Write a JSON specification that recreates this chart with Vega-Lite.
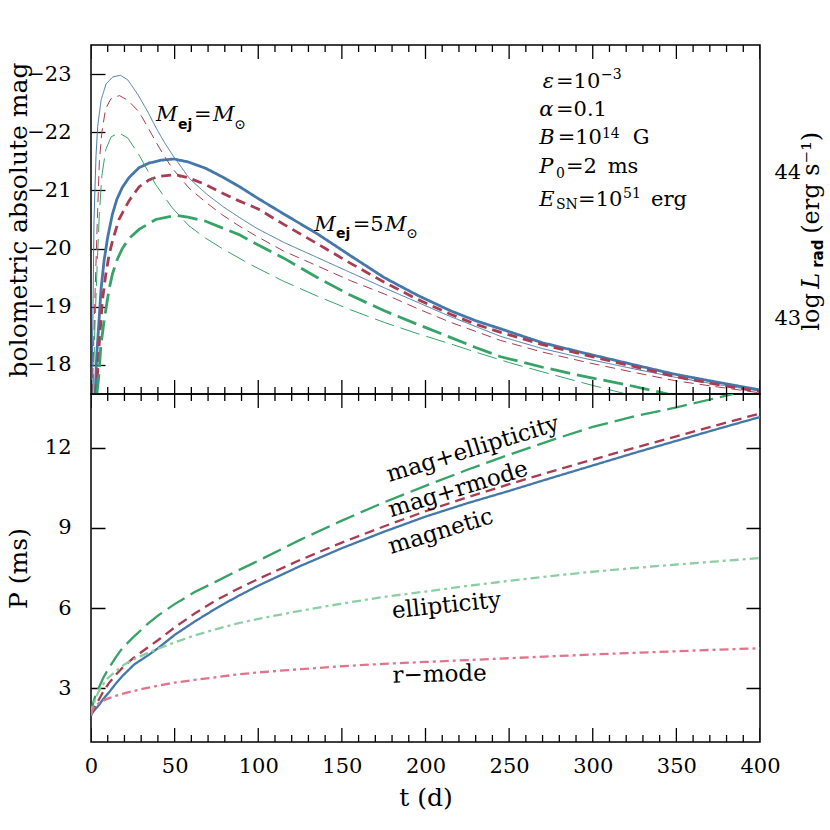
{
  "$schema": "https://vega.github.io/schema/vega-lite/v6.json",
  "background": "white",
  "padding": {"left": 5, "top": 44, "right": 0, "bottom": 0},
  "spacing": 0,
  "bounds": "flush",
  "config": {
    "view": {"stroke": "black", "strokeWidth": 1.5},
    "font": "DejaVu Serif",
    "axis": {
      "labelFont": "DejaVu Serif", "titleFont": "DejaVu Serif",
      "labelFontSize": 21, "titleFontSize": 25, "titleFontWeight": "normal",
      "labelColor": "black", "titleColor": "black", "ticks": false,
      "domain": false, "grid": true, "gridColor": "black", "gridWidth": 1.3, "gridOpacity": 1,
      "labelOverlap": false, "labelFlush": false, "labelBound": false
    },
    "text": {"font": "DejaVu Serif", "color": "black"}
  },
  "datasets": {
    "xmajor": [{"t":0},{"t":50},{"t":100},{"t":150},{"t":200},{"t":250},{"t":300},{"t":350},{"t":400}],
    "xminor": [{"t":10},{"t":20},{"t":30},{"t":40},{"t":60},{"t":70},{"t":80},{"t":90},{"t":110},{"t":120},{"t":130},{"t":140},{"t":160},{"t":170},{"t":180},{"t":190},{"t":210},{"t":220},{"t":230},{"t":240},{"t":260},{"t":270},{"t":280},{"t":290},{"t":310},{"t":320},{"t":330},{"t":340},{"t":360},{"t":370},{"t":380},{"t":390}],
    "top": [
      {"model":"magnetic","mej":1,"t":0.6,"mag":-17.5},{"model":"magnetic","mej":1,"t":1.8,"mag":-20.5},{"model":"magnetic","mej":1,"t":3,"mag":-21.6},{"model":"magnetic","mej":1,"t":4,"mag":-22.1},{"model":"magnetic","mej":1,"t":6,"mag":-22.55},{"model":"magnetic","mej":1,"t":9,"mag":-22.83},{"model":"magnetic","mej":1,"t":13,"mag":-22.95},{"model":"magnetic","mej":1,"t":17.5,"mag":-22.98},{"model":"magnetic","mej":1,"t":22,"mag":-22.9},{"model":"magnetic","mej":1,"t":28,"mag":-22.65},{"model":"magnetic","mej":1,"t":34,"mag":-22.35},{"model":"magnetic","mej":1,"t":39,"mag":-22.07},{"model":"magnetic","mej":1,"t":44,"mag":-21.82},{"model":"magnetic","mej":1,"t":49,"mag":-21.6},{"model":"magnetic","mej":1,"t":54,"mag":-21.4},{"model":"magnetic","mej":1,"t":59,"mag":-21.2},{"model":"magnetic","mej":1,"t":69,"mag":-20.94},{"model":"magnetic","mej":1,"t":79,"mag":-20.72},{"model":"magnetic","mej":1,"t":89,"mag":-20.53},{"model":"magnetic","mej":1,"t":99,"mag":-20.35},{"model":"magnetic","mej":1,"t":115,"mag":-20.11},{"model":"magnetic","mej":1,"t":135,"mag":-19.85},{"model":"magnetic","mej":1,"t":155,"mag":-19.59},{"model":"magnetic","mej":1,"t":175,"mag":-19.33},{"model":"magnetic","mej":1,"t":195,"mag":-19.08},{"model":"magnetic","mej":1,"t":215,"mag":-18.83},{"model":"magnetic","mej":1,"t":245,"mag":-18.49},{"model":"magnetic","mej":1,"t":270,"mag":-18.28},{"model":"magnetic","mej":1,"t":297,"mag":-18.1},{"model":"magnetic","mej":1,"t":325,"mag":-17.93},{"model":"magnetic","mej":1,"t":349,"mag":-17.79},{"model":"magnetic","mej":1,"t":375,"mag":-17.66},{"model":"magnetic","mej":1,"t":400,"mag":-17.55},
      {"model":"magnetic","mej":5,"t":2.5,"mag":-17.5},{"model":"magnetic","mej":5,"t":3.5,"mag":-18.2},{"model":"magnetic","mej":5,"t":4.8,"mag":-18.76},{"model":"magnetic","mej":5,"t":6,"mag":-19.3},{"model":"magnetic","mej":5,"t":7.8,"mag":-19.79},{"model":"magnetic","mej":5,"t":10,"mag":-20.2},{"model":"magnetic","mej":5,"t":12.8,"mag":-20.59},{"model":"magnetic","mej":5,"t":15.5,"mag":-20.85},{"model":"magnetic","mej":5,"t":18.7,"mag":-21.05},{"model":"magnetic","mej":5,"t":22.7,"mag":-21.22},{"model":"magnetic","mej":5,"t":28.7,"mag":-21.39},{"model":"magnetic","mej":5,"t":34.7,"mag":-21.47},{"model":"magnetic","mej":5,"t":42,"mag":-21.52},{"model":"magnetic","mej":5,"t":49.6,"mag":-21.54},{"model":"magnetic","mej":5,"t":58,"mag":-21.49},{"model":"magnetic","mej":5,"t":68.6,"mag":-21.38},{"model":"magnetic","mej":5,"t":78,"mag":-21.24},{"model":"magnetic","mej":5,"t":88.5,"mag":-21.07},{"model":"magnetic","mej":5,"t":100,"mag":-20.86},{"model":"magnetic","mej":5,"t":115,"mag":-20.6},{"model":"magnetic","mej":5,"t":135.5,"mag":-20.25},{"model":"magnetic","mej":5,"t":155,"mag":-19.88},{"model":"magnetic","mej":5,"t":175.4,"mag":-19.5},{"model":"magnetic","mej":5,"t":195,"mag":-19.2},{"model":"magnetic","mej":5,"t":215,"mag":-18.93},{"model":"magnetic","mej":5,"t":230,"mag":-18.76},{"model":"magnetic","mej":5,"t":245,"mag":-18.62},{"model":"magnetic","mej":5,"t":270,"mag":-18.38},{"model":"magnetic","mej":5,"t":297,"mag":-18.19},{"model":"magnetic","mej":5,"t":325,"mag":-18.0},{"model":"magnetic","mej":5,"t":349,"mag":-17.84},{"model":"magnetic","mej":5,"t":375,"mag":-17.7},{"model":"magnetic","mej":5,"t":400,"mag":-17.57},
      {"model":"mag+rmode","mej":1,"t":0.8,"mag":-17.5},{"model":"mag+rmode","mej":1,"t":2.5,"mag":-19.3},{"model":"mag+rmode","mej":1,"t":3.8,"mag":-20.5},{"model":"mag+rmode","mej":1,"t":5,"mag":-21.5},{"model":"mag+rmode","mej":1,"t":6.5,"mag":-22.0},{"model":"mag+rmode","mej":1,"t":8.7,"mag":-22.4},{"model":"mag+rmode","mej":1,"t":12,"mag":-22.58},{"model":"mag+rmode","mej":1,"t":17,"mag":-22.63},{"model":"mag+rmode","mej":1,"t":22,"mag":-22.55},{"model":"mag+rmode","mej":1,"t":28.7,"mag":-22.35},{"model":"mag+rmode","mej":1,"t":33.7,"mag":-22.1},{"model":"mag+rmode","mej":1,"t":38.7,"mag":-21.84},{"model":"mag+rmode","mej":1,"t":43.6,"mag":-21.6},{"model":"mag+rmode","mej":1,"t":48.6,"mag":-21.38},{"model":"mag+rmode","mej":1,"t":58.6,"mag":-21.04},{"model":"mag+rmode","mej":1,"t":68.5,"mag":-20.8},{"model":"mag+rmode","mej":1,"t":78.5,"mag":-20.58},{"model":"mag+rmode","mej":1,"t":88.5,"mag":-20.39},{"model":"mag+rmode","mej":1,"t":98.5,"mag":-20.22},{"model":"mag+rmode","mej":1,"t":115,"mag":-19.96},{"model":"mag+rmode","mej":1,"t":135.5,"mag":-19.7},{"model":"mag+rmode","mej":1,"t":155,"mag":-19.45},{"model":"mag+rmode","mej":1,"t":175.4,"mag":-19.22},{"model":"mag+rmode","mej":1,"t":195,"mag":-18.97},{"model":"mag+rmode","mej":1,"t":215.2,"mag":-18.73},{"model":"mag+rmode","mej":1,"t":245,"mag":-18.42},{"model":"mag+rmode","mej":1,"t":270,"mag":-18.22},{"model":"mag+rmode","mej":1,"t":297,"mag":-18.04},{"model":"mag+rmode","mej":1,"t":325,"mag":-17.87},{"model":"mag+rmode","mej":1,"t":349,"mag":-17.73},{"model":"mag+rmode","mej":1,"t":375,"mag":-17.62},{"model":"mag+rmode","mej":1,"t":400,"mag":-17.52},
      {"model":"mag+rmode","mej":5,"t":3,"mag":-17.5},{"model":"mag+rmode","mej":5,"t":3.8,"mag":-17.8},{"model":"mag+rmode","mej":5,"t":5,"mag":-18.4},{"model":"mag+rmode","mej":5,"t":6.8,"mag":-19.1},{"model":"mag+rmode","mej":5,"t":8.8,"mag":-19.55},{"model":"mag+rmode","mej":5,"t":10.8,"mag":-19.89},{"model":"mag+rmode","mej":5,"t":13,"mag":-20.15},{"model":"mag+rmode","mej":5,"t":16.7,"mag":-20.5},{"model":"mag+rmode","mej":5,"t":22.7,"mag":-20.82},{"model":"mag+rmode","mej":5,"t":28.7,"mag":-21.06},{"model":"mag+rmode","mej":5,"t":34.7,"mag":-21.18},{"model":"mag+rmode","mej":5,"t":40,"mag":-21.24},{"model":"mag+rmode","mej":5,"t":50.6,"mag":-21.27},{"model":"mag+rmode","mej":5,"t":58,"mag":-21.22},{"model":"mag+rmode","mej":5,"t":68.6,"mag":-21.1},{"model":"mag+rmode","mej":5,"t":78,"mag":-20.96},{"model":"mag+rmode","mej":5,"t":88.5,"mag":-20.82},{"model":"mag+rmode","mej":5,"t":100,"mag":-20.68},{"model":"mag+rmode","mej":5,"t":115,"mag":-20.42},{"model":"mag+rmode","mej":5,"t":135.5,"mag":-20.08},{"model":"mag+rmode","mej":5,"t":155,"mag":-19.75},{"model":"mag+rmode","mej":5,"t":175.4,"mag":-19.42},{"model":"mag+rmode","mej":5,"t":195,"mag":-19.13},{"model":"mag+rmode","mej":5,"t":215,"mag":-18.87},{"model":"mag+rmode","mej":5,"t":230,"mag":-18.7},{"model":"mag+rmode","mej":5,"t":245,"mag":-18.56},{"model":"mag+rmode","mej":5,"t":270,"mag":-18.35},{"model":"mag+rmode","mej":5,"t":297,"mag":-18.16},{"model":"mag+rmode","mej":5,"t":325,"mag":-17.97},{"model":"mag+rmode","mej":5,"t":349,"mag":-17.8},{"model":"mag+rmode","mej":5,"t":375,"mag":-17.66},{"model":"mag+rmode","mej":5,"t":400,"mag":-17.54},
      {"model":"mag+ellipticity","mej":1,"t":1.2,"mag":-17.5},{"model":"mag+ellipticity","mej":1,"t":2.5,"mag":-18.8},{"model":"mag+ellipticity","mej":1,"t":3.8,"mag":-19.8},{"model":"mag+ellipticity","mej":1,"t":5,"mag":-20.6},{"model":"mag+ellipticity","mej":1,"t":6.5,"mag":-21.25},{"model":"mag+ellipticity","mej":1,"t":8.8,"mag":-21.7},{"model":"mag+ellipticity","mej":1,"t":12,"mag":-21.92},{"model":"mag+ellipticity","mej":1,"t":16.7,"mag":-21.99},{"model":"mag+ellipticity","mej":1,"t":22,"mag":-21.9},{"model":"mag+ellipticity","mej":1,"t":28.7,"mag":-21.61},{"model":"mag+ellipticity","mej":1,"t":33.7,"mag":-21.35},{"model":"mag+ellipticity","mej":1,"t":38.7,"mag":-21.1},{"model":"mag+ellipticity","mej":1,"t":43.6,"mag":-20.9},{"model":"mag+ellipticity","mej":1,"t":48.6,"mag":-20.7},{"model":"mag+ellipticity","mej":1,"t":58.6,"mag":-20.39},{"model":"mag+ellipticity","mej":1,"t":68.5,"mag":-20.18},{"model":"mag+ellipticity","mej":1,"t":78.5,"mag":-20.0},{"model":"mag+ellipticity","mej":1,"t":95.7,"mag":-19.72},{"model":"mag+ellipticity","mej":1,"t":115,"mag":-19.44},{"model":"mag+ellipticity","mej":1,"t":135.5,"mag":-19.18},{"model":"mag+ellipticity","mej":1,"t":155,"mag":-18.95},{"model":"mag+ellipticity","mej":1,"t":175.4,"mag":-18.73},{"model":"mag+ellipticity","mej":1,"t":195,"mag":-18.54},{"model":"mag+ellipticity","mej":1,"t":215.2,"mag":-18.36},{"model":"mag+ellipticity","mej":1,"t":230,"mag":-18.22},{"model":"mag+ellipticity","mej":1,"t":250,"mag":-18.04},{"model":"mag+ellipticity","mej":1,"t":270,"mag":-17.88},{"model":"mag+ellipticity","mej":1,"t":297,"mag":-17.67},{"model":"mag+ellipticity","mej":1,"t":320,"mag":-17.5},
      {"model":"mag+ellipticity","mej":5,"t":3.5,"mag":-17.5},{"model":"mag+ellipticity","mej":5,"t":4.8,"mag":-17.85},{"model":"mag+ellipticity","mej":5,"t":5.8,"mag":-18.3},{"model":"mag+ellipticity","mej":5,"t":7.8,"mag":-18.76},{"model":"mag+ellipticity","mej":5,"t":10.8,"mag":-19.3},{"model":"mag+ellipticity","mej":5,"t":12.8,"mag":-19.56},{"model":"mag+ellipticity","mej":5,"t":15.5,"mag":-19.8},{"model":"mag+ellipticity","mej":5,"t":18.7,"mag":-20.0},{"model":"mag+ellipticity","mej":5,"t":22.7,"mag":-20.17},{"model":"mag+ellipticity","mej":5,"t":28.7,"mag":-20.33},{"model":"mag+ellipticity","mej":5,"t":38.7,"mag":-20.5},{"model":"mag+ellipticity","mej":5,"t":50.6,"mag":-20.57},{"model":"mag+ellipticity","mej":5,"t":58,"mag":-20.54},{"model":"mag+ellipticity","mej":5,"t":68.6,"mag":-20.47},{"model":"mag+ellipticity","mej":5,"t":78,"mag":-20.36},{"model":"mag+ellipticity","mej":5,"t":88.5,"mag":-20.24},{"model":"mag+ellipticity","mej":5,"t":100,"mag":-20.06},{"model":"mag+ellipticity","mej":5,"t":115,"mag":-19.84},{"model":"mag+ellipticity","mej":5,"t":135.5,"mag":-19.5},{"model":"mag+ellipticity","mej":5,"t":155,"mag":-19.2},{"model":"mag+ellipticity","mej":5,"t":175.4,"mag":-18.93},{"model":"mag+ellipticity","mej":5,"t":195,"mag":-18.7},{"model":"mag+ellipticity","mej":5,"t":215.2,"mag":-18.47},{"model":"mag+ellipticity","mej":5,"t":230,"mag":-18.3},{"model":"mag+ellipticity","mej":5,"t":245,"mag":-18.14},{"model":"mag+ellipticity","mej":5,"t":270,"mag":-17.96},{"model":"mag+ellipticity","mej":5,"t":297,"mag":-17.79},{"model":"mag+ellipticity","mej":5,"t":320,"mag":-17.66},{"model":"mag+ellipticity","mej":5,"t":345,"mag":-17.5}
    ],
    "topText": [
      {"role":"symbol","label":"M","t":38.9,"mag":-22.19},
      {"role":"symbol","label":"M","t":72.9,"mag":-22.19},
      {"role":"symbol","label":"M","t":133.5,"mag":-20.305},
      {"role":"symbol","label":"M","t":175.8,"mag":-20.305},
      {"role":"symbol","label":"ε","t":270.1,"mag":-22.767},
      {"role":"symbol","label":"α","t":268.0,"mag":-22.28},
      {"role":"symbol","label":"B","t":268.0,"mag":-21.794},
      {"role":"symbol","label":"P","t":268.0,"mag":-21.307},
      {"role":"symbol","label":"E","t":268.0,"mag":-20.735},
      {"role":"text","label":"=","t":61.6,"mag":-22.19},
      {"role":"text","label":"=5","t":156.5,"mag":-20.305},
      {"role":"text","label":"=10","t":278.0,"mag":-22.767},
      {"role":"text","label":"=0.1","t":278.0,"mag":-22.28},
      {"role":"text","label":"=10","t":279.0,"mag":-21.794},
      {"role":"text","label":"G","t":323.9,"mag":-21.794},
      {"role":"text","label":"=2","t":284.0,"mag":-21.307},
      {"role":"text","label":"ms","t":308.9,"mag":-21.307},
      {"role":"text","label":"=10","t":291.2,"mag":-20.735},
      {"role":"text","label":"erg","t":334.8,"mag":-20.735},
      {"role":"script","label":"−3","t":304.9,"mag":-22.911},
      {"role":"script","label":"14","t":305.5,"mag":-21.908},
      {"role":"script","label":"0","t":278.0,"mag":-21.221},
      {"role":"script","label":"SN","t":278.0,"mag":-20.678},
      {"role":"script","label":"51","t":318.1,"mag":-20.877},
      {"role":"script","label":"⊙","t":85.5,"mag":-22.06},
      {"role":"script","label":"⊙","t":188.3,"mag":-20.19},
      {"role":"sub","label":"ej","t":52.0,"mag":-22.06},
      {"role":"sub","label":"ej","t":146.5,"mag":-20.185},
      {"role":"rtitle","label":"log","t":435.5,"mag":-18.588},
      {"role":"rtitle","label":"(erg s⁻¹)","t":435.5,"mag":-20.254},
      {"role":"rital","label":"L","t":435.5,"mag":-19.31},
      {"role":"rsub","label":"rad","t":437.5,"mag":-19.67}
    ],
    "bottom": [
      {"model":"magnetic","t":0,"P":2.0},{"model":"magnetic","t":1,"P":2.1},{"model":"magnetic","t":2.5,"P":2.22},{"model":"magnetic","t":4.8,"P":2.38},{"model":"magnetic","t":7,"P":2.58},{"model":"magnetic","t":10.8,"P":2.86},{"model":"magnetic","t":14.7,"P":3.17},{"model":"magnetic","t":18.7,"P":3.46},{"model":"magnetic","t":25.9,"P":3.9},{"model":"magnetic","t":33.7,"P":4.22},{"model":"magnetic","t":40,"P":4.5},{"model":"magnetic","t":50,"P":5.0},{"model":"magnetic","t":62,"P":5.5},{"model":"magnetic","t":75,"P":6.0},{"model":"magnetic","t":87,"P":6.42},{"model":"magnetic","t":100,"P":6.84},{"model":"magnetic","t":125,"P":7.57},{"model":"magnetic","t":150,"P":8.24},{"model":"magnetic","t":175,"P":8.85},{"model":"magnetic","t":200,"P":9.42},{"model":"magnetic","t":225,"P":9.92},{"model":"magnetic","t":250,"P":10.38},{"model":"magnetic","t":275,"P":10.86},{"model":"magnetic","t":300,"P":11.33},{"model":"magnetic","t":325,"P":11.8},{"model":"magnetic","t":350,"P":12.25},{"model":"magnetic","t":375,"P":12.7},{"model":"magnetic","t":400,"P":13.14},
      {"model":"mag+rmode","t":0,"P":2.0},{"model":"mag+rmode","t":1,"P":2.15},{"model":"mag+rmode","t":2.5,"P":2.35},{"model":"mag+rmode","t":4.8,"P":2.59},{"model":"mag+rmode","t":7,"P":2.85},{"model":"mag+rmode","t":10.8,"P":3.21},{"model":"mag+rmode","t":14.7,"P":3.5},{"model":"mag+rmode","t":18.7,"P":3.77},{"model":"mag+rmode","t":25,"P":4.12},{"model":"mag+rmode","t":33.7,"P":4.52},{"model":"mag+rmode","t":40,"P":4.8},{"model":"mag+rmode","t":50,"P":5.28},{"model":"mag+rmode","t":62,"P":5.8},{"model":"mag+rmode","t":75,"P":6.3},{"model":"mag+rmode","t":87,"P":6.7},{"model":"mag+rmode","t":100,"P":7.09},{"model":"mag+rmode","t":125,"P":7.8},{"model":"mag+rmode","t":150,"P":8.45},{"model":"mag+rmode","t":175,"P":9.05},{"model":"mag+rmode","t":200,"P":9.62},{"model":"mag+rmode","t":225,"P":10.14},{"model":"mag+rmode","t":250,"P":10.63},{"model":"mag+rmode","t":275,"P":11.1},{"model":"mag+rmode","t":300,"P":11.55},{"model":"mag+rmode","t":325,"P":11.99},{"model":"mag+rmode","t":350,"P":12.42},{"model":"mag+rmode","t":375,"P":12.85},{"model":"mag+rmode","t":400,"P":13.27},
      {"model":"mag+ellipticity","t":0,"P":2.0},{"model":"mag+ellipticity","t":0.5,"P":2.25},{"model":"mag+ellipticity","t":1.5,"P":2.5},{"model":"mag+ellipticity","t":3,"P":2.8},{"model":"mag+ellipticity","t":4.8,"P":3.05},{"model":"mag+ellipticity","t":7.5,"P":3.42},{"model":"mag+ellipticity","t":10.8,"P":3.77},{"model":"mag+ellipticity","t":14.7,"P":4.15},{"model":"mag+ellipticity","t":18.7,"P":4.5},{"model":"mag+ellipticity","t":25,"P":4.9},{"model":"mag+ellipticity","t":33.7,"P":5.4},{"model":"mag+ellipticity","t":40,"P":5.72},{"model":"mag+ellipticity","t":50,"P":6.15},{"model":"mag+ellipticity","t":62,"P":6.6},{"model":"mag+ellipticity","t":75,"P":7.0},{"model":"mag+ellipticity","t":87,"P":7.38},{"model":"mag+ellipticity","t":100,"P":7.77},{"model":"mag+ellipticity","t":125,"P":8.55},{"model":"mag+ellipticity","t":150,"P":9.27},{"model":"mag+ellipticity","t":175,"P":9.95},{"model":"mag+ellipticity","t":200,"P":10.57},{"model":"mag+ellipticity","t":225,"P":11.17},{"model":"mag+ellipticity","t":250,"P":11.73},{"model":"mag+ellipticity","t":275,"P":12.27},{"model":"mag+ellipticity","t":300,"P":12.77},{"model":"mag+ellipticity","t":325,"P":13.17},{"model":"mag+ellipticity","t":350,"P":13.5},{"model":"mag+ellipticity","t":384,"P":14.0},
      {"model":"ellipticity","t":0,"P":2.0},{"model":"ellipticity","t":0.5,"P":2.2},{"model":"ellipticity","t":1,"P":2.32},{"model":"ellipticity","t":2,"P":2.5},{"model":"ellipticity","t":2.8,"P":2.62},{"model":"ellipticity","t":4.5,"P":2.88},{"model":"ellipticity","t":6.8,"P":3.12},{"model":"ellipticity","t":10,"P":3.38},{"model":"ellipticity","t":14.8,"P":3.65},{"model":"ellipticity","t":20,"P":3.9},{"model":"ellipticity","t":26.7,"P":4.12},{"model":"ellipticity","t":33.7,"P":4.32},{"model":"ellipticity","t":40,"P":4.48},{"model":"ellipticity","t":50,"P":4.72},{"model":"ellipticity","t":62,"P":4.98},{"model":"ellipticity","t":75,"P":5.22},{"model":"ellipticity","t":87,"P":5.42},{"model":"ellipticity","t":100,"P":5.6},{"model":"ellipticity","t":125,"P":5.9},{"model":"ellipticity","t":150,"P":6.17},{"model":"ellipticity","t":175,"P":6.42},{"model":"ellipticity","t":200,"P":6.62},{"model":"ellipticity","t":225,"P":6.83},{"model":"ellipticity","t":250,"P":7.02},{"model":"ellipticity","t":275,"P":7.2},{"model":"ellipticity","t":300,"P":7.36},{"model":"ellipticity","t":325,"P":7.5},{"model":"ellipticity","t":350,"P":7.63},{"model":"ellipticity","t":375,"P":7.75},{"model":"ellipticity","t":400,"P":7.87},
      {"model":"r-mode","t":0,"P":2.0},{"model":"r-mode","t":0.5,"P":2.15},{"model":"r-mode","t":1,"P":2.22},{"model":"r-mode","t":2,"P":2.32},{"model":"r-mode","t":4.8,"P":2.46},{"model":"r-mode","t":7,"P":2.54},{"model":"r-mode","t":10,"P":2.62},{"model":"r-mode","t":14.7,"P":2.72},{"model":"r-mode","t":18.7,"P":2.8},{"model":"r-mode","t":25,"P":2.9},{"model":"r-mode","t":33.7,"P":3.02},{"model":"r-mode","t":40,"P":3.1},{"model":"r-mode","t":50,"P":3.22},{"model":"r-mode","t":62,"P":3.32},{"model":"r-mode","t":75,"P":3.42},{"model":"r-mode","t":87,"P":3.52},{"model":"r-mode","t":100,"P":3.6},{"model":"r-mode","t":125,"P":3.72},{"model":"r-mode","t":150,"P":3.83},{"model":"r-mode","t":175,"P":3.92},{"model":"r-mode","t":200,"P":3.99},{"model":"r-mode","t":225,"P":4.06},{"model":"r-mode","t":250,"P":4.13},{"model":"r-mode","t":275,"P":4.2},{"model":"r-mode","t":300,"P":4.27},{"model":"r-mode","t":325,"P":4.33},{"model":"r-mode","t":350,"P":4.39},{"model":"r-mode","t":375,"P":4.45},{"model":"r-mode","t":400,"P":4.5}
    ],
    "bottomText": [
      {"label":"mag+ellipticity","t":178.4,"P":10.71},
      {"label":"mag+rmode","t":179.4,"P":9.40},
      {"label":"magnetic","t":179.4,"P":8.02},
      {"label":"ellipticity","t":180.4,"P":5.62},
      {"label":"r−mode","t":180.4,"P":3.21}
    ]
  },
  "vconcat": [
    {
      "width": 669, "height": 349,
      "resolve": {"axis": {"x": "independent", "y": "independent"}},
      "layer": [
        {
          "data": {"name": "top"},
          "mark": {"type": "line", "clip": true},
          "encoding": {
            "x": {"field": "t", "type": "quantitative", "scale": {"domain": [0, 400], "nice": false, "zero": false}, "axis": null},
            "y": {"field": "mag", "type": "quantitative", "scale": {"domain": [-23.5, -17.5], "reverse": true, "nice": false, "zero": false},
                  "axis": {"orient": "left", "values": [-23,-22,-21,-20,-19,-18],
                           "labelExpr": "format(datum.value, 'd')", "labelPadding": 20, "gridDash": [14, 3000],
                           "title": "bolometric absolute mag", "titleX": -60}},
            "color": {"field": "model", "type": "nominal", "scale": {"domain": ["magnetic", "mag+rmode", "mag+ellipticity", "ellipticity", "r-mode"], "range": ["#4477aa", "#aa3c52", "#36a367", "#8ccfa5", "#e3738a"]}, "legend": null},
            "strokeDash": {"field": "model", "type": "nominal", "scale": {"domain": ["magnetic", "mag+rmode", "mag+ellipticity", "ellipticity", "r-mode"], "range": [[1, 0], [10, 6], [20, 7], [9, 4, 3, 4], [9, 4, 3, 4]]}, "legend": null},
            "strokeWidth": {"field": "mej", "type": "quantitative", "scale": {"domain": [1, 5], "range": [1, 2.8]}, "legend": null},
            "detail": {"field": "mej", "type": "nominal"}
          }
        },
        {
          "data": {"name": "xmajor"},
          "mark": {"type": "tick", "orient": "vertical", "clip": true, "size": 28, "thickness": 1.3, "color": "black", "opacity": 1},
          "encoding": {
            "x": {"field": "t", "type": "quantitative", "axis": null},
            "y": {"datum": -17.5, "type": "quantitative", "axis": null}
          }
        },
        {
          "data": {"name": "xmajor"},
          "mark": {"type": "tick", "orient": "vertical", "clip": true, "size": 28, "thickness": 1.3, "color": "black", "opacity": 1},
          "encoding": {
            "x": {"field": "t", "type": "quantitative", "axis": null},
            "y": {"datum": -23.5, "type": "quantitative", "axis": null}
          }
        },
        {
          "data": {"name": "xminor"},
          "mark": {"type": "tick", "orient": "vertical", "clip": true, "size": 14, "thickness": 1.3, "color": "black", "opacity": 1},
          "encoding": {
            "x": {"field": "t", "type": "quantitative", "axis": null},
            "y": {"datum": -17.5, "type": "quantitative", "axis": null}
          }
        },
        {
          "data": {"name": "xminor"},
          "mark": {"type": "tick", "orient": "vertical", "clip": true, "size": 14, "thickness": 1.3, "color": "black", "opacity": 1},
          "encoding": {
            "x": {"field": "t", "type": "quantitative", "axis": null},
            "y": {"datum": -23.5, "type": "quantitative", "axis": null}
          }
        },
        {
          "data": {"name": "topText"},
          "transform": [{"filter": "datum.role == 'symbol'"}],
          "mark": {"type": "text", "align": "left", "baseline": "alphabetic", "fontStyle": "italic", "fontSize": 21, "font": "DejaVu Serif"},
          "encoding": {
            "x": {"field": "t", "type": "quantitative", "axis": null},
            "y": {"field": "mag", "type": "quantitative", "scale": {"domain": [-23.5, -17.5], "reverse": true, "nice": false, "zero": false},
                  "axis": {"orient": "right", "values": [-21.3, -18.8],
                           "labelExpr": "datum.value == -21.3 ? '44' : '43'", "labelPadding": 14, "gridDash": [14, 3000], "title": null}},
            "text": {"field": "label", "type": "nominal"}
          }
        },
        {
          "data": {"name": "topText"},
          "transform": [{"filter": "datum.role == 'text'"}],
          "mark": {"type": "text", "align": "left", "baseline": "alphabetic", "fontSize": 21, "font": "DejaVu Serif"},
          "encoding": {
            "x": {"field": "t", "type": "quantitative", "axis": null},
            "y": {"field": "mag", "type": "quantitative", "scale": {"domain": [-23.5, -17.5], "reverse": true, "nice": false, "zero": false},
                  "axis": {"orient": "left", "values": [-22.5,-21.5,-20.5,-19.5,-18.5], "labels": false, "title": null, "gridDash": [7, 3000]}},
            "text": {"field": "label", "type": "nominal"}
          }
        },
        {
          "data": {"name": "topText"},
          "transform": [{"filter": "datum.role == 'script'"}],
          "mark": {"type": "text", "align": "left", "baseline": "alphabetic", "fontSize": 14, "font": "DejaVu Serif"},
          "encoding": {
            "x": {"field": "t", "type": "quantitative", "axis": null},
            "y": {"field": "mag", "type": "quantitative", "scale": {"domain": [-23.5, -17.5], "reverse": true, "nice": false, "zero": false},
                  "axis": {"orient": "right", "values": [-23.3,-22.8,-22.3,-21.8,-20.8,-20.3,-19.8,-19.3,-18.3,-17.8], "labels": false, "title": null, "gridDash": [7, 3000]}},
            "text": {"field": "label", "type": "nominal"}
          }
        },
        {
          "data": {"name": "topText"},
          "transform": [{"filter": "datum.role == 'sub'"}],
          "mark": {"type": "text", "align": "left", "baseline": "alphabetic", "fontSize": 14, "font": "DejaVu Sans", "fontWeight": "bold"},
          "encoding": {
            "x": {"field": "t", "type": "quantitative", "axis": null},
            "y": {"field": "mag", "type": "quantitative", "axis": null},
            "text": {"field": "label", "type": "nominal"}
          }
        },
        {
          "data": {"name": "topText"},
          "transform": [{"filter": "datum.role == 'rtitle'"}],
          "mark": {"type": "text", "align": "left", "baseline": "alphabetic", "angle": -90, "fontSize": 24, "font": "DejaVu Serif"},
          "encoding": {
            "x": {"field": "t", "type": "quantitative", "axis": null},
            "y": {"field": "mag", "type": "quantitative", "axis": null},
            "text": {"field": "label", "type": "nominal"}
          }
        },
        {
          "data": {"name": "topText"},
          "transform": [{"filter": "datum.role == 'rital'"}],
          "mark": {"type": "text", "align": "left", "baseline": "alphabetic", "angle": -90, "fontSize": 24, "fontStyle": "italic", "font": "DejaVu Serif"},
          "encoding": {
            "x": {"field": "t", "type": "quantitative", "axis": null},
            "y": {"field": "mag", "type": "quantitative", "axis": null},
            "text": {"field": "label", "type": "nominal"}
          }
        },
        {
          "data": {"name": "topText"},
          "transform": [{"filter": "datum.role == 'rsub'"}],
          "mark": {"type": "text", "align": "left", "baseline": "alphabetic", "angle": -90, "fontSize": 15, "font": "DejaVu Sans", "fontWeight": "bold"},
          "encoding": {
            "x": {"field": "t", "type": "quantitative", "axis": null},
            "y": {"field": "mag", "type": "quantitative", "axis": null},
            "text": {"field": "label", "type": "nominal"}
          }
        }
      ]
    },
    {
      "width": 669, "height": 348,
      "resolve": {"axis": {"x": "independent", "y": "independent"}},
      "layer": [
        {
          "data": {"name": "bottom"},
          "mark": {"type": "line", "clip": true, "strokeWidth": 2.3},
          "encoding": {
            "x": {"field": "t", "type": "quantitative", "scale": {"domain": [0, 400], "nice": false, "zero": false},
                  "axis": {"orient": "bottom", "values": [0,50,100,150,200,250,300,350,400], "labelPadding": 13, "grid": false,
                           "title": "t  (d)", "titleY": 43}},
            "y": {"field": "P", "type": "quantitative", "scale": {"domain": [1, 14], "nice": false, "zero": false},
                  "axis": {"orient": "left", "values": [3,6,9,12], "labelPadding": 20, "gridDash": [14, 641, 14, 3000],
                           "title": "P  (ms)", "titleX": -60}},
            "color": {"field": "model", "type": "nominal", "scale": {"domain": ["magnetic", "mag+rmode", "mag+ellipticity", "ellipticity", "r-mode"], "range": ["#4477aa", "#aa3c52", "#36a367", "#8ccfa5", "#e3738a"]}, "legend": null},
            "strokeDash": {"field": "model", "type": "nominal", "scale": {"domain": ["magnetic", "mag+rmode", "mag+ellipticity", "ellipticity", "r-mode"], "range": [[1, 0], [10, 6], [20, 7], [9, 4, 3, 4], [9, 4, 3, 4]]}, "legend": null}
          }
        },
        {
          "data": {"name": "xmajor"},
          "mark": {"type": "tick", "orient": "vertical", "clip": true, "size": 28, "thickness": 1.3, "color": "black", "opacity": 1},
          "encoding": {
            "x": {"field": "t", "type": "quantitative", "axis": null},
            "y": {"datum": 1, "type": "quantitative", "axis": null}
          }
        },
        {
          "data": {"name": "xmajor"},
          "mark": {"type": "tick", "orient": "vertical", "clip": true, "size": 28, "thickness": 1.3, "color": "black", "opacity": 1},
          "encoding": {
            "x": {"field": "t", "type": "quantitative", "axis": null},
            "y": {"datum": 14, "type": "quantitative", "axis": null}
          }
        },
        {
          "data": {"name": "xminor"},
          "mark": {"type": "tick", "orient": "vertical", "clip": true, "size": 14, "thickness": 1.3, "color": "black", "opacity": 1},
          "encoding": {
            "x": {"field": "t", "type": "quantitative", "axis": null},
            "y": {"datum": 1, "type": "quantitative", "axis": null}
          }
        },
        {
          "data": {"name": "xminor"},
          "mark": {"type": "tick", "orient": "vertical", "clip": true, "size": 14, "thickness": 1.3, "color": "black", "opacity": 1},
          "encoding": {
            "x": {"field": "t", "type": "quantitative", "axis": null},
            "y": {"datum": 14, "type": "quantitative", "axis": null}
          }
        },
        {
          "data": {"name": "bottomText"},
          "transform": [{"filter": "datum.label == 'mag+ellipticity' || datum.label == 'mag+rmode' || datum.label == 'magnetic'"}],
          "mark": {"type": "text", "align": "left", "baseline": "alphabetic", "angle": -17, "fontSize": 23, "font": "DejaVu Serif"},
          "encoding": {
            "x": {"field": "t", "type": "quantitative", "axis": null},
            "y": {"field": "P", "type": "quantitative", "scale": {"domain": [1, 14], "nice": false, "zero": false},
                  "axis": {"orient": "left", "values": [2,4,5,7,8,10,11,13], "labels": false, "title": null, "gridDash": [7, 655, 7, 3000]}},
            "text": {"field": "label", "type": "nominal"}
          }
        },
        {
          "data": {"name": "bottomText"},
          "transform": [{"filter": "datum.label == 'ellipticity'"}],
          "mark": {"type": "text", "align": "left", "baseline": "alphabetic", "angle": -6, "fontSize": 23, "font": "DejaVu Serif"},
          "encoding": {
            "x": {"field": "t", "type": "quantitative", "axis": null},
            "y": {"field": "P", "type": "quantitative", "axis": null},
            "text": {"field": "label", "type": "nominal"}
          }
        },
        {
          "data": {"name": "bottomText"},
          "transform": [{"filter": "datum.label == 'r−mode'"}],
          "mark": {"type": "text", "align": "left", "baseline": "alphabetic", "angle": -1.5, "fontSize": 23, "font": "DejaVu Serif"},
          "encoding": {
            "x": {"field": "t", "type": "quantitative", "axis": null},
            "y": {"field": "P", "type": "quantitative", "axis": null},
            "text": {"field": "label", "type": "nominal"}
          }
        }
      ]
    }
  ]
}
